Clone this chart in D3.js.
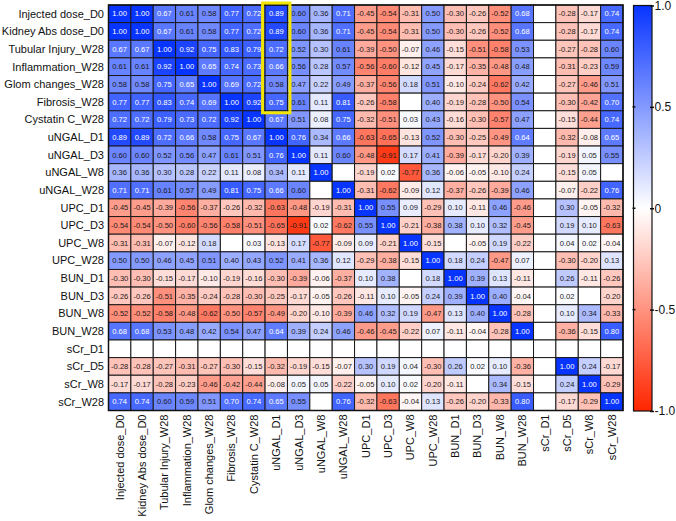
<!DOCTYPE html>
<html><head><meta charset="utf-8">
<script src="https://cdn.jsdelivr.net/npm/d3@7"></script>
<style>body{margin:0;background:#fff;}svg{display:block;font-family:"Liberation Sans",Arial,sans-serif;}</style>
</head><body>
<svg id="chart" width="676" height="521"></svg>
<script>
const variables = ["Injected dose_D0","Kidney Abs dose_D0","Tubular Injury_W28","Inflammation_W28","Glom changes_W28","Fibrosis_W28","Cystatin C_W28","uNGAL_D1","uNGAL_D3","uNGAL_W8","uNGAL_W28","UPC_D1","UPC_D3","UPC_W8","UPC_W28","BUN_D1","BUN_D3","BUN_W8","BUN_W28","sCr_D1","sCr_D5","sCr_W8","sCr_W28"];
const N = null;
const r_InjectedDose = [1.00,1.00,0.67,0.61,0.58,0.77,0.72,0.89,0.60,0.36,0.71,-0.45,-0.54,-0.31,0.50,-0.30,-0.26,-0.52,0.68,N,-0.28,-0.17,0.74];
const r_KidneyAbsDose = [1.00,1.00,0.67,0.61,0.58,0.77,0.72,0.89,0.60,0.36,0.71,-0.45,-0.54,-0.31,0.50,-0.30,-0.26,-0.52,0.68,N,-0.28,-0.17,0.74];
const r_Tubular = [0.67,0.67,1.00,0.92,0.75,0.83,0.79,0.72,0.52,0.30,0.61,-0.39,-0.50,-0.07,0.46,-0.15,-0.51,-0.58,0.53,N,-0.27,-0.28,0.60];
const r_Inflammation = [0.61,0.61,0.92,1.00,0.65,0.74,0.73,0.66,0.56,0.28,0.57,-0.56,-0.60,-0.12,0.45,-0.17,-0.35,-0.48,0.48,N,-0.31,-0.23,0.59];
const r_Glom = [0.58,0.58,0.75,0.65,1.00,0.69,0.72,0.58,0.47,0.22,0.49,-0.37,-0.56,0.18,0.51,-0.10,-0.24,-0.62,0.42,N,-0.27,-0.46,0.51];
const r_Fibrosis = [0.77,0.77,0.83,0.74,0.69,1.00,0.92,0.75,0.61,0.11,0.81,-0.26,-0.58,N,0.40,-0.19,-0.28,-0.50,0.54,N,-0.30,-0.42,0.70];
const r_CystatinC = [0.72,0.72,0.79,0.73,0.72,0.92,1.00,0.67,0.51,0.08,0.75,-0.32,-0.51,0.03,0.43,-0.16,-0.30,-0.57,0.47,N,-0.15,-0.44,0.74];
const r_uNGAL_D1 = [0.89,0.89,0.72,0.66,0.58,0.75,0.67,1.00,0.76,0.34,0.66,-0.63,-0.65,-0.13,0.52,-0.30,-0.25,-0.49,0.64,N,-0.32,-0.08,0.65];
const r_uNGAL_D3 = [0.60,0.60,0.52,0.56,0.47,0.61,0.51,0.76,1.00,0.11,0.60,-0.48,-0.91,0.17,0.41,-0.39,-0.17,-0.20,0.39,N,-0.19,0.05,0.55];
const r_uNGAL_W8 = [0.36,0.36,0.30,0.28,0.22,0.11,0.08,0.34,0.11,1.00,N,-0.19,0.02,-0.77,0.36,-0.06,-0.05,-0.10,0.24,N,-0.15,0.05,N];
const r_uNGAL_W28 = [0.71,0.71,0.61,0.57,0.49,0.81,0.75,0.66,0.60,N,1.00,-0.31,-0.62,-0.09,0.12,-0.37,-0.26,-0.39,0.46,N,-0.07,-0.22,0.76];
const r_UPC_D1 = [-0.45,-0.45,-0.39,-0.56,-0.37,-0.26,-0.32,-0.63,-0.48,-0.19,-0.31,1.00,0.55,0.09,-0.29,0.10,-0.11,0.46,-0.46,N,0.30,-0.05,-0.32];
const r_UPC_D3 = [-0.54,-0.54,-0.50,-0.60,-0.56,-0.58,-0.51,-0.65,-0.91,0.02,-0.62,0.55,1.00,-0.21,-0.38,0.38,0.10,0.32,-0.45,N,0.19,0.10,-0.63];
const r_UPC_W8 = [-0.31,-0.31,-0.07,-0.12,0.18,N,0.03,-0.13,0.17,-0.77,-0.09,0.09,-0.21,1.00,-0.15,N,-0.05,0.19,-0.22,N,0.04,0.02,-0.04];
const r_UPC_W28 = [0.50,0.50,0.46,0.45,0.51,0.40,0.43,0.52,0.41,0.36,0.12,-0.29,-0.38,-0.15,1.00,0.18,0.24,-0.47,0.07,N,-0.30,-0.20,0.13];
const r_BUN_D1 = [-0.30,-0.30,-0.15,-0.17,-0.10,-0.19,-0.16,-0.30,-0.39,-0.06,-0.37,0.10,0.38,N,0.18,1.00,0.39,0.13,-0.11,N,0.26,-0.11,-0.26];
const r_BUN_D3 = [-0.26,-0.26,-0.51,-0.35,-0.24,-0.28,-0.30,-0.25,-0.17,-0.05,-0.26,-0.11,0.10,-0.05,0.24,0.39,1.00,0.40,-0.04,N,0.02,N,-0.20];
const r_BUN_W8 = [-0.52,-0.52,-0.58,-0.48,-0.62,-0.50,-0.57,-0.49,-0.20,-0.10,-0.39,0.46,0.32,0.19,-0.47,0.13,0.40,1.00,-0.28,N,0.10,0.34,-0.33];
const r_BUN_W28 = [0.68,0.68,0.53,0.48,0.42,0.54,0.47,0.64,0.39,0.24,0.46,-0.46,-0.45,-0.22,0.07,-0.11,-0.04,-0.28,1.00,N,-0.36,-0.15,0.80];
const r_sCr_D1 = [N,N,N,N,N,N,N,N,N,N,N,N,N,N,N,N,N,N,N,N,N,N,N];
const r_sCr_D5 = [-0.28,-0.28,-0.27,-0.31,-0.27,-0.30,-0.15,-0.32,-0.19,-0.15,-0.07,0.30,0.19,0.04,-0.30,0.26,0.02,0.10,-0.36,N,1.00,0.24,-0.17];
const r_sCr_W8 = [-0.17,-0.17,-0.28,-0.23,-0.46,-0.42,-0.44,-0.08,0.05,0.05,-0.22,-0.05,0.10,0.02,-0.20,-0.11,N,0.34,-0.15,N,0.24,1.00,-0.29];
const r_sCr_W28 = [0.74,0.74,0.60,0.59,0.51,0.70,0.74,0.65,0.55,N,0.76,-0.32,-0.63,-0.04,0.13,-0.26,-0.20,-0.33,0.80,N,-0.17,-0.29,1.00];
const rows = [r_InjectedDose,r_KidneyAbsDose,r_Tubular,r_Inflammation,r_Glom,r_Fibrosis,r_CystatinC,r_uNGAL_D1,r_uNGAL_D3,r_uNGAL_W8,r_uNGAL_W28,r_UPC_D1,r_UPC_D3,r_UPC_W8,r_UPC_W28,r_BUN_D1,r_BUN_D3,r_BUN_W8,r_BUN_W28,r_sCr_D1,r_sCr_D5,r_sCr_W8,r_sCr_W28];
const legendTicks = [1.0, 0.5, 0, -0.5, -1.0];
const highlightCol = "uNGAL_D1";
const highlightRows = ["Injected dose_D0","Fibrosis_W28"];

const svg = d3.select("#chart");
const x = d3.scaleBand().domain(variables).range([108.5, 623]).padding(0);
const y = d3.scaleBand().domain(variables).range([5, 410.5]).padding(0);
const color = d3.scaleLinear().domain([-1, 0, 1]).range(["rgb(255,38,0)", "#ffffff", "rgb(8,52,255)"]).clamp(true);

const cells = [];
rows.forEach((r, i) => r.forEach((v, j) => cells.push({row: variables[i], col: variables[j], v})));

const g = svg.append("g");
g.selectAll("rect.cell").data(cells).join("rect")
  .attr("class", "cell")
  .attr("x", d => x(d.col)).attr("y", d => y(d.row))
  .attr("width", x.bandwidth()).attr("height", y.bandwidth())
  .attr("fill", d => d.v === null ? "#ffffff" : color(d.v))
  .attr("stroke", "#1a1a1a").attr("stroke-width", 1);

const fmt = v => v.toFixed(2);
g.selectAll("text.val").data(cells.filter(d => d.v !== null)).join("text")
  .attr("class", "val")
  .attr("x", d => x(d.col) + x.bandwidth() / 2)
  .attr("y", d => y(d.row) + y.bandwidth() / 2)
  .attr("dy", "0.35em")
  .attr("text-anchor", "middle")
  .attr("font-size", 7.6)
  .attr("fill", d => d.v >= 0.64 ? "#ffffff" : "#1a1a1a")
  .text(d => fmt(d.v));

// outer border
g.append("rect").attr("x", x.range()[0]).attr("y", y.range()[0])
  .attr("width", x.range()[1] - x.range()[0]).attr("height", y.range()[1] - y.range()[0])
  .attr("fill", "none").attr("stroke", "#111").attr("stroke-width", 1.5);

// highlight box
const hy0 = y(highlightRows[0]), hy1 = y(highlightRows[1]) + y.bandwidth();
svg.append("rect")
  .attr("x", x(highlightCol) - 2.5).attr("y", hy0 - 2)
  .attr("width", x.bandwidth() + 5).attr("height", hy1 - hy0 + 4)
  .attr("fill", "none").attr("stroke", "#f2e600").attr("stroke-width", 3);

// row labels
svg.append("g").selectAll("text").data(variables).join("text")
  .attr("x", 104).attr("y", d => y(d) + y.bandwidth() / 2).attr("dy", "0.35em")
  .attr("text-anchor", "end").attr("font-size", 11).attr("fill", "#111").text(d => d);

// column labels
svg.append("g").selectAll("text").data(variables).join("text")
  .attr("transform", d => `translate(${x(d) + x.bandwidth() / 2},${y.range()[1] + 4}) rotate(-90)`)
  .attr("dy", "0.35em")
  .attr("text-anchor", "end").attr("font-size", 11).attr("fill", "#111").text(d => d);

// legend
const defs = svg.append("defs");
const grad = defs.append("linearGradient").attr("id", "lg").attr("x1", 0).attr("y1", 1).attr("x2", 0).attr("y2", 0);
d3.range(0, 1.0001, 0.1).forEach(t => grad.append("stop").attr("offset", t).attr("stop-color", color(-1 + 2 * t)));
const ly = d3.scaleLinear().domain([-1, 1]).range([411, 5.5]);
const lx0 = 633.5, lx1 = 652;
svg.append("rect").attr("x", lx0).attr("y", ly(1)).attr("width", lx1 - lx0).attr("height", ly(-1) - ly(1))
  .attr("fill", "url(#lg)").attr("stroke", "#111").attr("stroke-width", 1.2);
const ax = svg.append("g").attr("transform", `translate(${lx1},0)`)
  .call(d3.axisRight(ly).tickValues(legendTicks).tickSize(2).tickFormat(d => d === 0 ? "0" : d.toFixed(1)));
ax.select(".domain").remove();
ax.selectAll("line").attr("stroke", "#111").attr("stroke-width", 1.5).attr("x1", -2);
ax.selectAll("text").attr("font-size", 12).attr("fill", "#111").attr("x", 2.5).attr("font-family", "Liberation Sans, Arial, sans-serif");
svg.append("g").selectAll("line").data(legendTicks.filter(t => Math.abs(t) < 1)).join("line")
  .attr("x1", lx0 - 1).attr("x2", lx0 + 2).attr("y1", d => ly(d)).attr("y2", d => ly(d))
  .attr("stroke", "#111").attr("stroke-width", 1.5);
</script>
</body></html>
